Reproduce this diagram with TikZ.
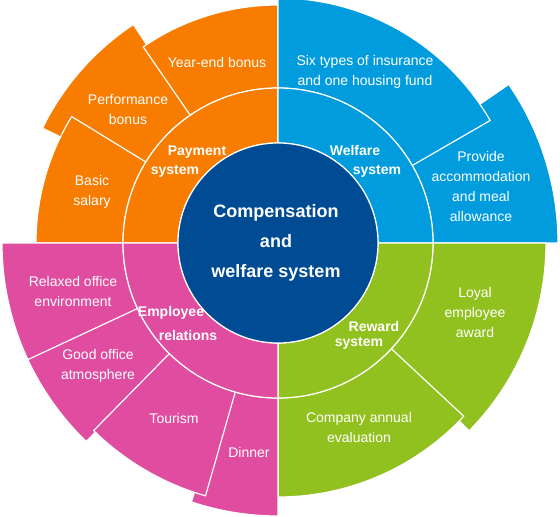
\documentclass[tikz,border=0pt]{standalone}
\usepackage{fontspec}
\setmainfont{Liberation Sans}
\definecolor{cpay}{RGB}{247,124,0}
\definecolor{cwel}{RGB}{0,156,222}
\definecolor{crew}{RGB}{145,193,31}
\definecolor{cemp}{RGB}{224,76,160}
\definecolor{ccen}{RGB}{0,76,148}
\newcommand\mysector[5]{%
  \filldraw[fill=#1, draw=white, line width=1.2pt, line join=round]
    (#2:#4) arc[start angle=#2, end angle=#3, radius=#4]
    -- (#3:#5) arc[start angle=#3, end angle=#2, radius=#5] -- cycle;}
\tikzset{
  outertext/.style={text=white, align=center, font=\fontsize{14}{20}\selectfont},
  midtext/.style={text=white, font=\fontsize{14}{18}\selectfont\bfseries},
  centertext/.style={text=white, align=center, font=\fontsize{18}{30}\selectfont\bfseries}
}
\begin{document}
\begin{tikzpicture}[x=1pt,y=1pt]
\useasboundingbox (-278,-274) rectangle (282,243);
% outer ring (larger pieces first, overlapped by their neighbours)
\mysector{cpay}{123.5}{154}{155pt}{262pt}   % Performance bonus
\mysector{cpay}{90}{124.5}{155pt}{238pt}    % Year-end bonus
\mysector{cpay}{148.5}{180}{155pt}{242pt}   % Basic salary
\mysector{cwel}{0}{34.5}{155pt}{280pt}      % Provide accommodation
\mysector{cwel}{30}{90}{155pt}{245pt}       % Six types
\mysector{crew}{-44.5}{0}{155pt}{268pt}     % Loyal employee award
\mysector{crew}{-90}{-43}{155pt}{254pt}     % Company annual evaluation
\mysector{cemp}{251.5}{270}{155pt}{273pt}   % Dinner
\mysector{cemp}{204.5}{226}{155pt}{276pt}   % Good office atmosphere
\mysector{cemp}{180}{205}{155pt}{276pt}     % Relaxed office environment
\mysector{cemp}{225.5}{254}{155pt}{263pt}   % Tourism
% middle ring
\mysector{cpay}{90}{180}{100pt}{155pt}
\mysector{cwel}{0}{90}{100pt}{155pt}
\mysector{crew}{-90}{0}{100pt}{155pt}
\mysector{cemp}{180}{270}{100pt}{155pt}
% centre
\filldraw[fill=ccen, draw=white, line width=1.2pt] (0,0) circle[radius=100pt];
% texts
\node[centertext] (centre) at (-2,0) {Compensation\\and\\welfare system};
\node[midtext] (pay1) at (-81,91) {Payment};
\node[midtext] (pay2) at (-103,72) {system};
\node[midtext] (wel1) at (77,93) {Welfare};
\node[midtext] (wel2) at (99,72) {system};
\node[midtext] (rew1) at (96,-83) {Reward};
\node[midtext] (rew2) at (81,-100) {system};
\node[midtext] (emp1) at (-107,-70) {Employee};
\node[midtext] (emp2) at (-90,-92) {relations};
\node[outertext] (yeb) at (-61,181) {Year-end bonus};
\node[outertext] (perf) at (-150,133) {Performance\\bonus};
\node[outertext] (basic) at (-186,51) {Basic\\salary};
\node[outertext] (six) at (87,171.5) {Six types of insurance\\and one housing fund};
\node[outertext] (prov) at (203,57) {Provide\\accommodation\\and meal\\allowance};
\node[outertext] (loyal) at (197,-69) {Loyal\\employee\\award};
\node[outertext] (comp) at (81,-184) {Company annual\\evaluation};
\node[outertext] (dinner) at (-29,-209) {Dinner};
\node[outertext] (tour) at (-104,-175) {Tourism};
\node[outertext] (good) at (-180,-123) {Good office\\atmosphere};
\node[outertext] (relax) at (-205,-48) {Relaxed office\\environment};
\end{tikzpicture}
\end{document}
